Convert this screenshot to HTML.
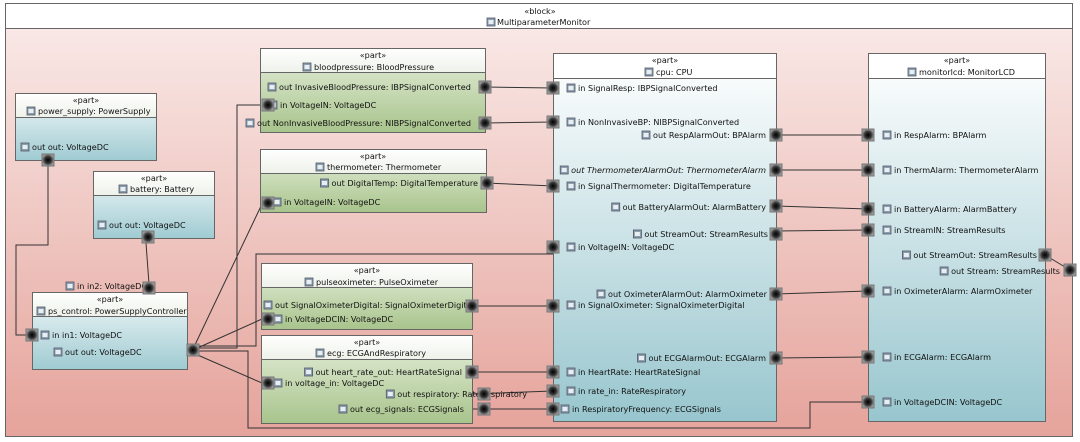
<!DOCTYPE html>
<html><head><meta charset="utf-8"><style>body{margin:0;background:#fff}svg{display:block}text{font-family:"DejaVu Sans","Liberation Sans",sans-serif;font-size:8.1px;fill:#111}</style></head><body>
<svg id="s" width="1080" height="442" viewBox="0 0 1080 442" xmlns="http://www.w3.org/2000/svg">
<defs>
<linearGradient id="bg" x1="0" y1="0" x2="0" y2="1"><stop offset="0" stop-color="#faecea"/><stop offset="1" stop-color="#e5a39b"/></linearGradient>
<linearGradient id="blue" x1="0" y1="0" x2="0" y2="1"><stop offset="0" stop-color="#f2f8f9"/><stop offset="1" stop-color="#9fcbd2"/></linearGradient>
<linearGradient id="blue2" x1="0" y1="0" x2="0" y2="1"><stop offset="0" stop-color="#ffffff"/><stop offset="1" stop-color="#98c6ce"/></linearGradient>
<linearGradient id="green" x1="0" y1="0" x2="0" y2="1"><stop offset="0" stop-color="#e6efdc"/><stop offset="1" stop-color="#a8c48c"/></linearGradient>
<linearGradient id="hdr" x1="0" y1="0" x2="0" y2="1"><stop offset="0" stop-color="#ffffff"/><stop offset="1" stop-color="#eef2ea"/></linearGradient>
<radialGradient id="pg"><stop offset="0" stop-color="#000"/><stop offset="0.55" stop-color="#333"/><stop offset="1" stop-color="#999"/></radialGradient>
<g id="p"><rect x="-6" y="-6" width="12" height="12" fill="url(#pg)" stroke="#777" stroke-width="1"/></g>
<g id="i"><rect x="0" y="-7" width="8" height="8" fill="#8aa0b0" stroke="#556" stroke-width="0.8"/><rect x="1.5" y="-5" width="5" height="4" fill="#e8eef2"/></g>
</defs>
<rect x="5.5" y="3.5" width="1067" height="433" fill="url(#bg)" stroke="#666"/>
<rect x="5.5" y="3.5" width="1067" height="25" fill="#fff" stroke="#666"/>
<text x="540" y="14" text-anchor="middle">«block»</text>
<use href="#i" x="487" y="25"/><text x="497" y="25">MultiparameterMonitor</text>

<g fill="none" stroke="#333" stroke-width="1">
<polyline points="48,166 48,245 16,245 16,335 32,335"/>
<line x1="146" y1="243" x2="149" y2="284"/>
<polyline points="193,348 237,348 237,105 262,105"/>
<line x1="193" y1="349" x2="262" y2="204"/>
<polyline points="193,346 256,346 256,254 553,254 553,247"/>
<line x1="193" y1="350" x2="262" y2="319"/>
<line x1="193" y1="353" x2="262" y2="383"/>
<polyline points="193,351 248,351 248,428 810,428 810,402 868,402"/>
<line x1="485" y1="87" x2="553" y2="88"/>
<line x1="485" y1="123" x2="553" y2="122"/>
<line x1="485" y1="183" x2="553" y2="186"/>
<line x1="472" y1="306" x2="553" y2="306"/>
<line x1="472" y1="372" x2="553" y2="372"/>
<line x1="472" y1="394" x2="553" y2="391"/>
<line x1="472" y1="409" x2="553" y2="409"/>
<line x1="776" y1="135" x2="868" y2="135"/>
<line x1="776" y1="170" x2="868" y2="170"/>
<line x1="776" y1="206" x2="868" y2="209"/>
<line x1="776" y1="231" x2="868" y2="230"/>
<line x1="776" y1="294" x2="868" y2="291"/>
<line x1="776" y1="358" x2="868" y2="357"/>
<line x1="1045" y1="255" x2="1070" y2="270"/>
</g>

<rect x="15.5" y="93.5" width="141" height="67" fill="url(#blue)" stroke="#666"/>
<rect x="15.5" y="93.5" width="141" height="24" fill="url(#hdr)" stroke="#666"/>
<text x="86" y="103" text-anchor="middle">«part»</text>
<use href="#i" x="27" y="114"/><text x="38" y="114">power_supply: PowerSupply</text>
<use href="#i" x="21" y="150"/><text x="32" y="150">out out: VoltageDC</text>

<rect x="93.5" y="171.5" width="121" height="67" fill="url(#blue)" stroke="#666"/>
<rect x="93.5" y="171.5" width="121" height="24" fill="url(#hdr)" stroke="#666"/>
<text x="154" y="181" text-anchor="middle">«part»</text>
<use href="#i" x="119" y="192"/><text x="130" y="192">battery: Battery</text>
<use href="#i" x="98" y="228"/><text x="109" y="228">out out: VoltageDC</text>

<rect x="32.5" y="292.5" width="155" height="77" fill="url(#blue)" stroke="#666"/>
<rect x="32.5" y="292.5" width="155" height="24" fill="url(#hdr)" stroke="#666"/>
<text x="110" y="302" text-anchor="middle">«part»</text>
<use href="#i" x="37" y="314"/><text x="48" y="314">ps_control: PowerSupplyController</text>
<use href="#i" x="41" y="338"/><text x="52" y="338">in in1: VoltageDC</text>
<use href="#i" x="54" y="355"/><text x="65" y="355">out out: VoltageDC</text>
<use href="#i" x="66" y="289"/><text x="77" y="289">in in2: VoltageDC</text>

<rect x="260.5" y="48.5" width="225" height="84" fill="url(#green)" stroke="#666"/>
<rect x="260.5" y="48.5" width="225" height="24" fill="url(#hdr)" stroke="#666"/>
<text x="373" y="58" text-anchor="middle">«part»</text>
<use href="#i" x="303" y="70"/><text x="314" y="70">bloodpressure: BloodPressure</text>
<use href="#i" x="268" y="90"/><text x="279" y="90">out InvasiveBloodPressure: IBPSignalConverted</text>
<use href="#i" x="269" y="108"/><text x="280" y="108">in VoltageIN: VoltageDC</text>
<use href="#i" x="246" y="126"/><text x="257" y="126">out NonInvasiveBloodPressure: NIBPSignalConverted</text>

<rect x="260.5" y="149.5" width="226" height="63" fill="url(#green)" stroke="#666"/>
<rect x="260.5" y="149.5" width="226" height="24" fill="url(#hdr)" stroke="#666"/>
<text x="373" y="159" text-anchor="middle">«part»</text>
<use href="#i" x="316" y="170"/><text x="327" y="170">thermometer: Thermometer</text>
<text class="r" x="478" y="186" text-anchor="end">out DigitalTemp: DigitalTemperature</text>
<use href="#i" x="273" y="205"/><text x="284" y="205">in VoltageIN: VoltageDC</text>

<rect x="261.5" y="263.5" width="211" height="66" fill="url(#green)" stroke="#666"/>
<rect x="261.5" y="263.5" width="211" height="24" fill="url(#hdr)" stroke="#666"/>
<text x="367" y="273" text-anchor="middle">«part»</text>
<use href="#i" x="305" y="285"/><text x="316" y="285">pulseoximeter: PulseOximeter</text>
<use href="#i" x="264" y="308"/><text x="275" y="308">out SignalOximeterDigital: SignalOximeterDigital</text>
<use href="#i" x="274" y="322"/><text x="285" y="322">in VoltageDCIN: VoltageDC</text>

<rect x="261.5" y="335.5" width="211" height="88" fill="url(#green)" stroke="#666"/>
<rect x="261.5" y="335.5" width="211" height="24" fill="url(#hdr)" stroke="#666"/>
<text x="367" y="345" text-anchor="middle">«part»</text>
<use href="#i" x="316" y="356"/><text x="327" y="356">ecg: ECGAndRespiratory</text>
<text class="r" x="462" y="375" text-anchor="end">out heart_rate_out: HeartRateSignal</text>
<use href="#i" x="274" y="386"/><text x="285" y="386">in voltage_in: VoltageDC</text>
<text class="r" x="527" y="397" text-anchor="end">out respiratory: RateRespiratory</text>
<text class="r" x="464" y="412" text-anchor="end">out ecg_signals: ECGSignals</text>

<rect x="553.5" y="53.5" width="223" height="368" fill="url(#blue2)" stroke="#666"/>
<rect x="553.5" y="53.5" width="223" height="25" fill="#fff" stroke="#666"/>
<text x="665" y="63" text-anchor="middle">«part»</text>
<use href="#i" x="645" y="75"/><text x="656" y="75">cpu: CPU</text>
<use href="#i" x="567" y="91"/><text x="578" y="91">in SignalResp: IBPSignalConverted</text>
<use href="#i" x="567" y="125"/><text x="578" y="125">in NonInvasiveBP: NIBPSignalConverted</text>
<text class="r" x="766" y="138" text-anchor="end">out RespAlarmOut: BPAlarm</text>
<text class="r" x="766" y="173" text-anchor="end" font-style="italic">out ThermometerAlarmOut: ThermometerAlarm</text>
<use href="#i" x="567" y="189"/><text x="578" y="189">in SignalThermometer: DigitalTemperature</text>
<text class="r" x="766" y="210" text-anchor="end">out BatteryAlarmOut: AlarmBattery</text>
<text class="r" x="768" y="237" text-anchor="end">out StreamOut: StreamResults</text>
<use href="#i" x="567" y="250"/><text x="578" y="250">in VoltageIN: VoltageDC</text>
<text class="r" x="767" y="297" text-anchor="end">out OximeterAlarmOut: AlarmOximeter</text>
<use href="#i" x="567" y="308"/><text x="578" y="308">in SignalOximeter: SignalOximeterDigital</text>
<text class="r" x="766" y="361" text-anchor="end">out ECGAlarmOut: ECGAlarm</text>
<use href="#i" x="567" y="375"/><text x="578" y="375">in HeartRate: HeartRateSignal</text>
<use href="#i" x="567" y="394"/><text x="578" y="394">in rate_in: RateRespiratory</text>
<use href="#i" x="561" y="412"/><text x="572" y="412">in RespiratoryFrequency: ECGSignals</text>

<rect x="868.5" y="53.5" width="177" height="368" fill="url(#blue2)" stroke="#666"/>
<rect x="868.5" y="53.5" width="177" height="25" fill="#fff" stroke="#666"/>
<text x="957" y="63" text-anchor="middle">«part»</text>
<use href="#i" x="908" y="75"/><text x="919" y="75">monitorlcd: MonitorLCD</text>
<use href="#i" x="883" y="138"/><text x="894" y="138">in RespAlarm: BPAlarm</text>
<use href="#i" x="883" y="173"/><text x="894" y="173">in ThermAlarm: ThermometerAlarm</text>
<use href="#i" x="883" y="212"/><text x="894" y="212">in BatteryAlarm: AlarmBattery</text>
<use href="#i" x="883" y="233"/><text x="894" y="233">in StreamIN: StreamResults</text>
<text class="r" x="1037" y="258" text-anchor="end">out StreamOut: StreamResults</text>
<text class="r" x="1060" y="274" text-anchor="end">out Stream: StreamResults</text>
<use href="#i" x="883" y="294"/><text x="894" y="294">in OximeterAlarm: AlarmOximeter</text>
<use href="#i" x="883" y="360"/><text x="894" y="360">in ECGAlarm: ECGAlarm</text>
<use href="#i" x="883" y="405"/><text x="894" y="405">in VoltageDCIN: VoltageDC</text>

<g id="ports">
<use href="#p" x="48" y="160"/><use href="#p" x="148" y="237"/>
<use href="#p" x="32" y="335"/><use href="#p" x="193" y="350"/><use href="#p" x="149" y="288"/>
<use href="#p" x="485" y="87"/><use href="#p" x="268" y="105"/><use href="#p" x="485" y="123"/>
<use href="#p" x="487" y="183"/><use href="#p" x="268" y="203"/>
<use href="#p" x="472" y="306"/><use href="#p" x="268" y="319"/>
<use href="#p" x="472" y="372"/><use href="#p" x="268" y="383"/><use href="#p" x="484" y="394"/><use href="#p" x="484" y="409"/>
<use href="#p" x="553" y="88"/><use href="#p" x="553" y="122"/><use href="#p" x="553" y="186"/><use href="#p" x="553" y="247"/>
<use href="#p" x="553" y="306"/><use href="#p" x="553" y="372"/><use href="#p" x="553" y="391"/><use href="#p" x="553" y="409"/>
<use href="#p" x="776" y="135"/><use href="#p" x="776" y="170"/><use href="#p" x="776" y="206"/><use href="#p" x="776" y="234"/>
<use href="#p" x="776" y="294"/><use href="#p" x="776" y="358"/>
<use href="#p" x="868" y="135"/><use href="#p" x="868" y="170"/><use href="#p" x="868" y="209"/><use href="#p" x="868" y="230"/>
<use href="#p" x="868" y="291"/><use href="#p" x="868" y="357"/><use href="#p" x="868" y="402"/>
<use href="#p" x="1045" y="255"/><use href="#p" x="1070" y="270"/>
</g>
</svg>
<script>
(function(){var s=document.getElementById('s'),NS='http://www.w3.org/2000/svg';
document.querySelectorAll('text.r').forEach(function(t){var w=t.getComputedTextLength();var u=document.createElementNS(NS,'use');u.setAttribute('href','#i');u.setAttribute('x',(parseFloat(t.getAttribute('x'))-w-11).toFixed(1));u.setAttribute('y',t.getAttribute('y'));t.parentNode.insertBefore(u,t);});
var p=document.getElementById('ports');s.appendChild(p);})();
</script>
</body></html>
